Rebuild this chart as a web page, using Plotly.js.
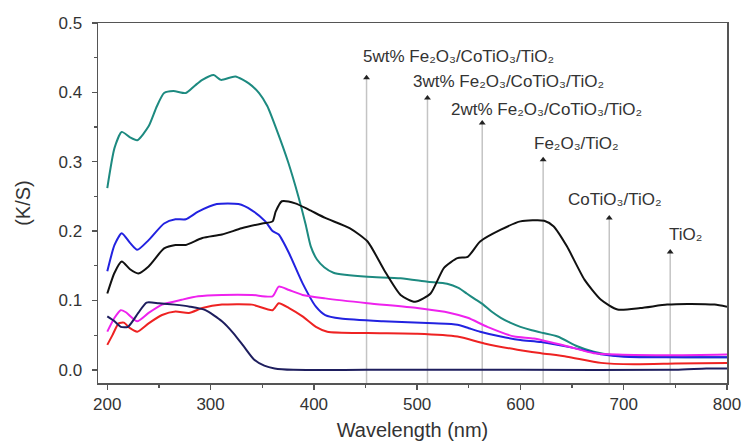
<!DOCTYPE html>
<html>
<head>
<meta charset="utf-8">
<script src="https://cdn.plot.ly/plotly-3.0.1.min.js"></script>
<style>html,body{margin:0;padding:0;background:#fff;}</style>
</head>
<body>
<div id="chart" style="width:748px;height:446px;"></div>
<script>
// ---- data ----
const x5wt = [200,207,214,222,229,240,248,255,264,276,285,292,303,310,324,337,347,355,364,375,385,392,397,403,410,419,430,452,484,510,529,540,548,556,564,572,581,590,600,611,622,636,655,671,690,720,760,800];
const y5wt = [0.262,0.320,0.343,0.335,0.331,0.351,0.380,0.399,0.402,0.399,0.410,0.418,0.425,0.418,0.423,0.413,0.399,0.380,0.346,0.300,0.250,0.210,0.178,0.159,0.148,0.140,0.137,0.134,0.132,0.127,0.124,0.118,0.110,0.102,0.094,0.084,0.075,0.068,0.062,0.057,0.053,0.048,0.034,0.026,0.021,0.019,0.018,0.018];

const x3wt = [200,207,214,222,229,240,255,266,276,288,306,327,340,353,360,366,376,389,402,411,426,467,516,539,550,561,581,600,620,650,680,700,750,800];
const y3wt = [0.142,0.180,0.197,0.183,0.173,0.187,0.211,0.217,0.217,0.228,0.239,0.239,0.230,0.214,0.200,0.195,0.168,0.125,0.091,0.079,0.074,0.070,0.067,0.065,0.060,0.055,0.048,0.043,0.040,0.032,0.022,0.019,0.018,0.018];

const x2wt = [200,207,214,222,230,240,255,266,276,292,311,330,350,360,363,369,382,395,411,435,452,468,484,498,513,526,539,549,561,581,600,623,632,645,662,678,694,716,742,762,788,800];
const y2wt = [0.110,0.140,0.156,0.145,0.139,0.149,0.175,0.180,0.180,0.190,0.195,0.204,0.211,0.214,0.228,0.243,0.240,0.231,0.219,0.204,0.185,0.144,0.108,0.098,0.110,0.147,0.161,0.163,0.185,0.202,0.214,0.215,0.207,0.178,0.130,0.101,0.087,0.089,0.094,0.095,0.094,0.091];

const xFe = [200,207,213,218,229,240,253,272,288,311,340,360,366,376,389,411,452,500,532,549,568,594,613,645,671,694,750,800];
const yFe = [0.055,0.075,0.086,0.083,0.070,0.082,0.094,0.101,0.106,0.108,0.108,0.106,0.120,0.115,0.108,0.103,0.096,0.089,0.082,0.075,0.062,0.048,0.045,0.034,0.024,0.022,0.021,0.022];

const xCo = [200,205,211,216,222,229,240,253,266,279,292,311,340,360,366,376,389,402,413,452,500,539,565,597,620,645,678,710,750,800];
const yCo = [0.036,0.050,0.067,0.068,0.060,0.055,0.067,0.079,0.084,0.082,0.089,0.094,0.094,0.086,0.096,0.089,0.077,0.062,0.055,0.053,0.052,0.048,0.038,0.029,0.024,0.019,0.010,0.008,0.009,0.010];

const xTi = [200,207,213,220,230,238,250,265,280,295,311,322,332,342,352,362,380,450,600,750,780,800];
const yTi = [0.077,0.070,0.062,0.062,0.082,0.097,0.096,0.094,0.091,0.086,0.070,0.053,0.034,0.015,0.006,0.002,0.000,0.000,0.000,0.000,0.002,0.002];

// labels (Unicode subscripts) and the wavelengths their arrows point at
const labels = [
  '5wt% Fe₂O₃/CoTiO₃/TiO₂',
  '3wt% Fe₂O₃/CoTiO₃/TiO₂',
  '2wt% Fe₂O₃/CoTiO₃/TiO₂',
  'Fe₂O₃/TiO₂',
  'CoTiO₃/TiO₂',
  'TiO₂'
];
const arrowX   = [451, 510, 563, 622, 686, 745];
const arrowTop = [0.421, 0.392, 0.356, 0.303, 0.219, 0.170];
const labelX   = [446, 494, 531, 611, 644, 742];
const labelY   = [0.451, 0.415, 0.375, 0.327, 0.245, 0.195];

const xRange = [191, 800];
const yRange = [-0.019, 0.5];

// ---- traces ----
const series = [
  {x: x5wt, y: y5wt, c: '#1d8a80', n: '5wt%'},
  {x: x3wt, y: y3wt, c: '#2222e0', n: '3wt%'},
  {x: x2wt, y: y2wt, c: '#111111', n: '2wt%'},
  {x: xFe,  y: yFe,  c: '#ee22ee', n: 'Fe2O3/TiO2'},
  {x: xCo,  y: yCo,  c: '#ee2222', n: 'CoTiO3/TiO2'},
  {x: xTi,  y: yTi,  c: '#1e1e5e', n: 'TiO2'}
];
const traces = series.map(s => ({
  x: s.x, y: s.y, name: s.n, mode: 'lines', type: 'scatter',
  line: {color: s.c, width: 2, shape: 'spline', smoothing: 0.6},
  showlegend: false, hoverinfo: 'skip'
}));
// arrow heads
traces.push({
  x: arrowX, y: arrowTop, mode: 'markers', type: 'scatter', showlegend: false, hoverinfo: 'skip',
  marker: {symbol: 'triangle-up', size: 6, color: '#222'}
});

const FONT = 'Liberation Sans, Arial, sans-serif';
const shapes = arrowX.map((ax, i) => ({
  type: 'line', xref: 'x', yref: 'y', x0: ax, x1: ax, y0: yRange[0], y1: arrowTop[i],
  line: {color: '#c4c4c4', width: 1.5}, layer: 'below'
}));
const annotations = labels.map((t, i) => ({
  x: labelX[i], y: labelY[i], xref: 'x', yref: 'y', text: t, showarrow: false,
  xanchor: 'left', yanchor: 'middle', font: {family: FONT, size: 17, color: '#333'}
}));

const axisCommon = {
  showgrid: false, zeroline: false, showline: true, linecolor: '#555', linewidth: 1.5, mirror: true,
  ticks: 'outside', ticklen: 5, tickwidth: 1.5, tickcolor: '#555',
  tickfont: {family: FONT, size: 17, color: '#333'}
};

const layout = {
  width: 748, height: 446,
  margin: {l: 98, r: 21, t: 23, b: 63},
  paper_bgcolor: '#fff', plot_bgcolor: '#fff',
  xaxis: Object.assign({}, axisCommon, {
    range: xRange, tick0: 200, dtick: 100,
    minor: {ticks: 'outside', ticklen: 3, tickwidth: 1.2, tickcolor: '#555', dtick: 50, tick0: 200},
    title: {text: 'Wavelength (nm)', font: {family: FONT, size: 20, color: '#333'}, standoff: 10}
  }),
  yaxis: Object.assign({}, axisCommon, {
    range: yRange, tick0: 0, dtick: 0.1, tickformat: '.1f',
    minor: {ticks: 'outside', ticklen: 3, tickwidth: 1.2, tickcolor: '#555', dtick: 0.05, tick0: 0},
    ticklabelstandoff: 6,
    title: {text: '(K/S)', font: {family: FONT, size: 20, color: '#333'}, standoff: 22}
  }),
  shapes: shapes,
  annotations: annotations
};

Plotly.newPlot('chart', traces, layout, {staticPlot: true, displayModeBar: false});
</script>
</body>
</html>
